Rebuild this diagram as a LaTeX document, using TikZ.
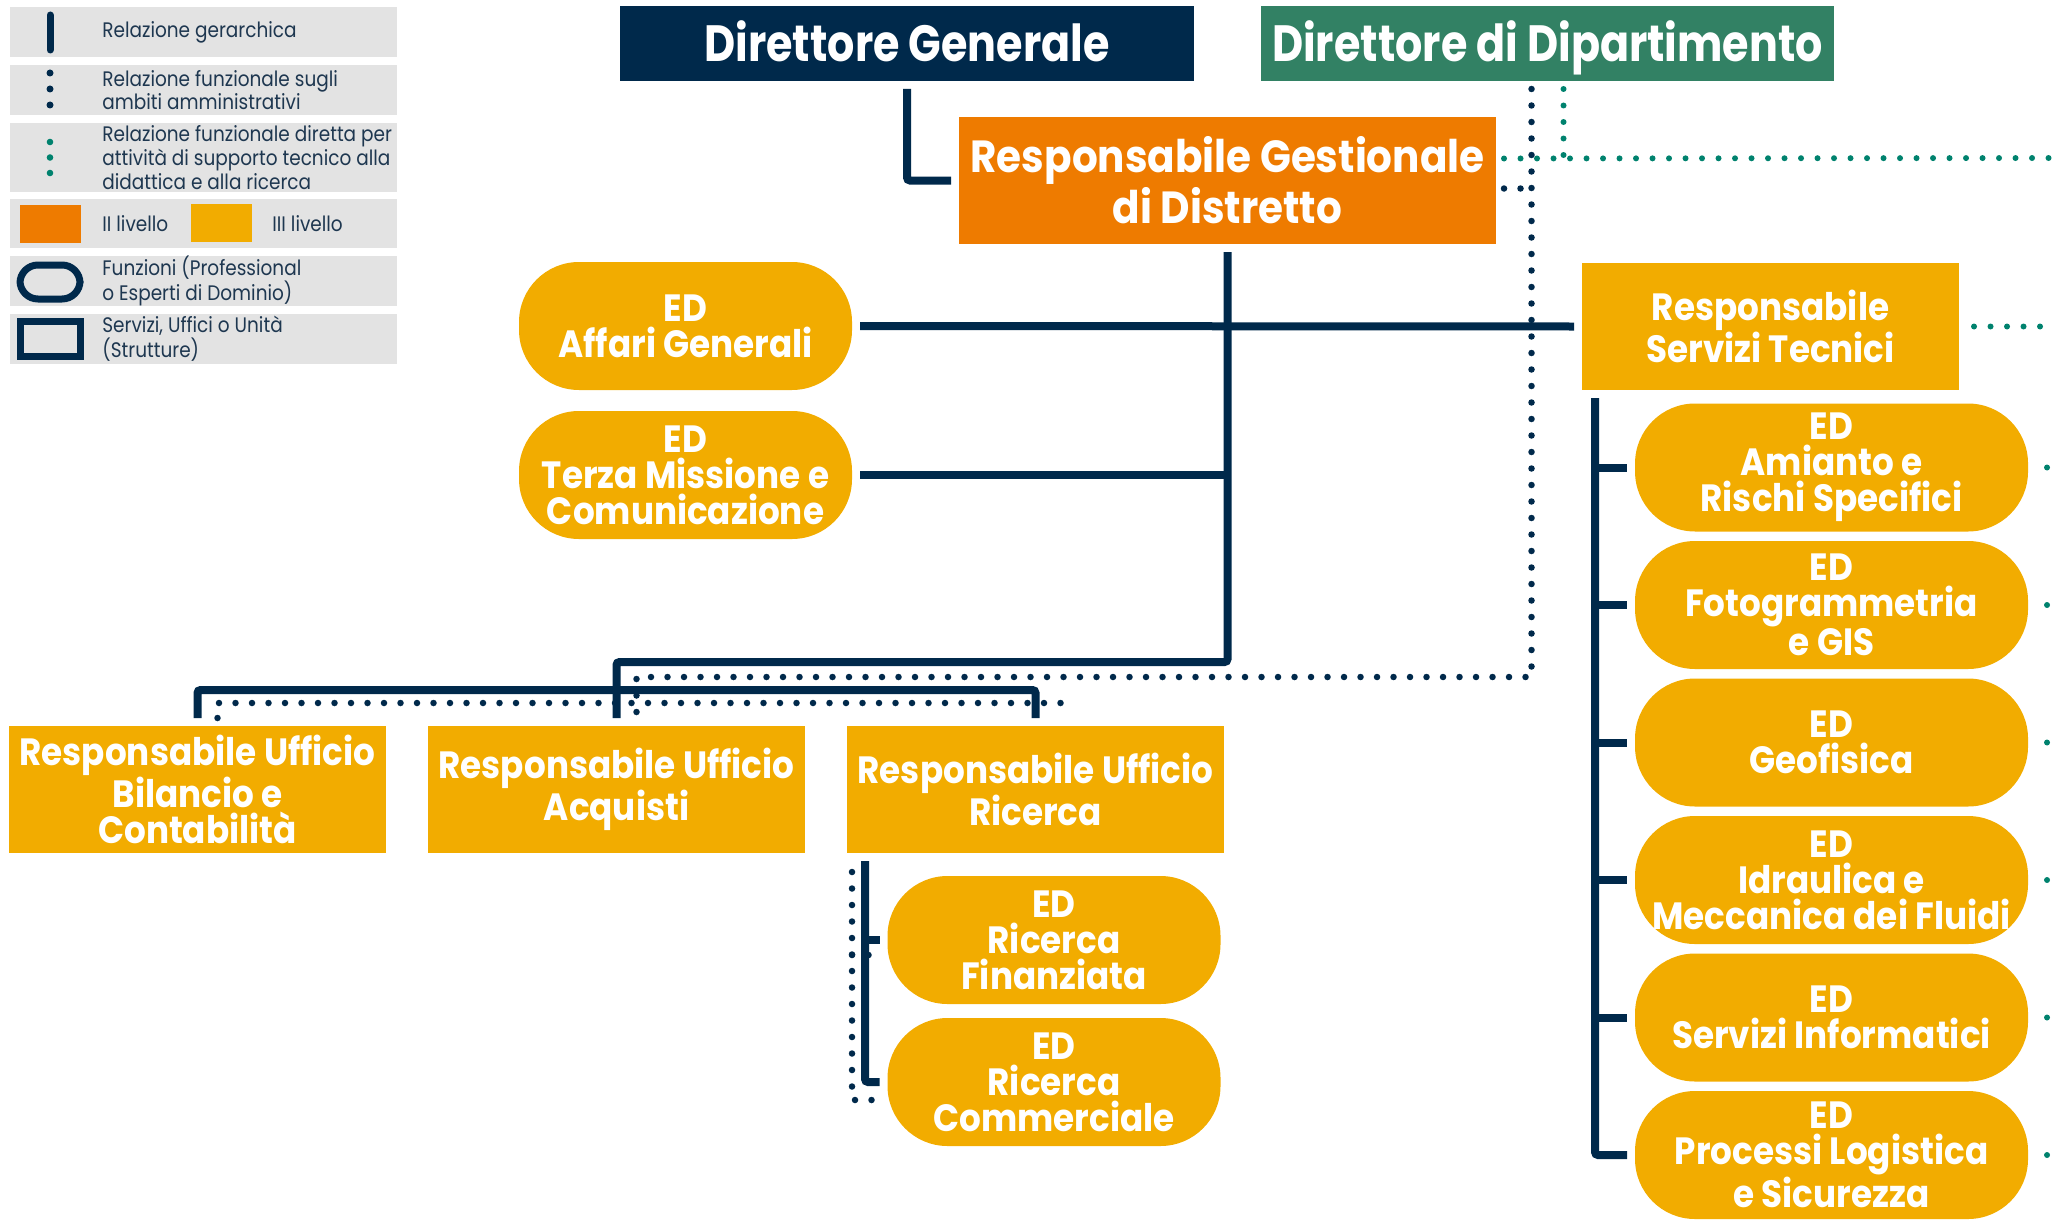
\documentclass[tikz,border=0pt]{standalone}
\usepackage{fontspec}
\setmainfont{Poppins}
\newfontfamily\boxfont{Poppins}[FakeStretch=0.9]
\newfontfamily\headfont{Poppins}[FakeStretch=0.84]
\newfontfamily\legfont{Poppins}[FakeStretch=0.88]

\definecolor{navy}{RGB}{0,41,75}
\definecolor{dipgreen}{RGB}{50,129,100}
\definecolor{techteal}{RGB}{0,130,110}
\definecolor{lvltwo}{RGB}{238,123,0}
\definecolor{lvlthree}{RGB}{242,172,0}
\definecolor{leggray}{RGB}{227,227,227}
\definecolor{legtext}{RGB}{30,55,80}

\begin{document}
\begin{tikzpicture}[x=0.5pt,y=-0.5pt,
    hier/.style={draw=navy,line width=4pt,rounded corners=1.5pt},
    admin/.style={draw=navy,line width=3.25pt,line cap=round,dash pattern=on 0pt off 8.25pt},
    tech/.style={draw=techteal,line width=3pt,line cap=round,dash pattern=on 0pt off 8.25pt},
    head/.style={text=white,font={\headfont\bfseries\fontsize{25.5}{27}\selectfont},inner sep=0pt,outer sep=4pt,text height=19pt,text depth=0.5pt,minimum width=287pt,minimum height=37.5pt},
    unit/.style={fill=lvlthree,text=white,font={\boxfont\bfseries\fontsize{19}{18}\selectfont},align=center,inner sep=0pt,outer sep=4pt,minimum width=188.5pt,minimum height=63.5pt},
    expert/.style={unit,rounded corners=30pt,minimum width=166.5pt,minimum height=64pt},
    wideexpert/.style={expert,minimum width=196.5pt},
    legtxt/.style={anchor=west,align=left,text=legtext,inner sep=0pt,font={\legfont\fontsize{10.5}{10.25}\selectfont}}]
    \useasboundingbox (0,0) rectangle (2059,1220);

    % legend
    \fill[leggray] (10,7) rectangle (397,57);
    \fill[leggray] (10,65) rectangle (397,115);
    \fill[leggray] (10,123) rectangle (397,192);
    \fill[leggray] (10,199) rectangle (397,248);
    \fill[leggray] (10,256) rectangle (397,306);
    \fill[leggray] (10,314) rectangle (397,364);
    \draw[navy,line width=3.5pt,line cap=round] (50,15) -- (50,50);
    \foreach \y in {73,89,105} \fill[navy] (50,\y) circle (3.5);
    \foreach \y in {142,157.5,173} \fill[techteal] (50,\y) circle (3.3);
    \fill[lvltwo] (20,205) rectangle (81,243);
    \fill[lvlthree] (191,204) rectangle (252,242);
    \draw[navy,line width=3.5pt,rounded corners=9pt] (20,265) rectangle (80,299);
    \draw[navy,line width=3.5pt] (20,321) rectangle (80,356);
    \node[legtxt] (lg1) at (102,32) {Relazione gerarchica};
    \node[legtxt] (lg2) at (102,90) {Relazione funzionale sugli\\ambiti amministrativi};
    \node[legtxt] (lg3) at (102,157.5) {Relazione funzionale diretta per\\attività di supporto tecnico alla\\didattica e alla ricerca};
    \node[legtxt] (lg4) at (102,224) {II livello};
    \node[legtxt] (lg5) at (272,224) {III livello};
    \node[legtxt] (lg6) at (102,281) {Funzioni (Professional\\o Esperti di Dominio)};
    \node[legtxt] (lg7) at (102,339) {Servizi, Uffici o Unità\\(Strutture)};

    % top level
    \node[head,fill=navy] (dg) at (907,43.5) {Direttore Generale};
    \node[head,fill=dipgreen,minimum width=286.5pt] (ddd) at (1547.5,43.5) {Direttore di Dipartimento};
    \node[unit,fill=lvltwo,minimum width=268.5pt,font={\boxfont\bfseries\fontsize{22.5}{25.5}\selectfont}] (rgd) at (1227.5,180.5) {Responsabile Gestionale\\di Distretto};

    % distretto
    \node[expert] (edag) at (685.5,326) {ED\\Affari Generali};
    \node[expert] (edtm) at (685.5,475) {ED\\Terza Missione e\\Comunicazione};
    \node[unit] (rst) at (1770.5,326.5) {Responsabile\\Servizi Tecnici};
    \node[unit] (rub) at (197.5,789.5) {Responsabile Ufficio\\Bilancio e\\Contabilità};
    \node[unit] (rua) at (616.5,789.5) {Responsabile Ufficio\\Acquisti};
    \node[unit] (rur) at (1035.5,789.5) {Responsabile Ufficio\\Ricerca};
    \node[expert] (edrf) at (1054,940) {ED\\Ricerca\\Finanziata};
    \node[expert] (edrc) at (1054,1082) {ED\\Ricerca\\Commerciale};

    % servizi tecnici
    \node[wideexpert] (edam) at (1831.5,467.5) {ED\\Amianto e\\Rischi Specifici};
    \node[wideexpert] (edfg) at (1831.5,605) {ED\\Fotogrammetria\\e GIS};
    \node[wideexpert] (edgf) at (1831.5,742.5) {ED\\Geofisica};
    \node[wideexpert] (edim) at (1831.5,880) {ED\\Idraulica e\\Meccanica dei Fluidi};
    \node[wideexpert] (edsi) at (1831.5,1017.5) {ED\\Servizi Informatici};
    \node[wideexpert] (edps) at (1831.5,1155) {ED\\Processi Logistica\\e Sicurezza};

    % gerarchia
    \draw[hier] (dg.south) |- (rgd.west);
    \draw[hier] (rgd.south) -- ++(0,410) -| (rua.north);
    \draw[hier] (edag.east) -- (rst.west);
    \draw[hier] (edtm.east) -- (edtm.east -| rgd.south);
    \draw[hier] (rub.north) -- ++(0,-28) -| (rur.north);
    \coordinate (rbus) at ([xshift=13pt]rur.south west);
    \draw[hier] (rbus) |- (edrc.west);
    \draw[hier] (rbus |- edrf.west) -- (edrf.west);
    \coordinate (stbus) at ([xshift=10.5pt]rst.south west);
    \draw[hier] (stbus) |- (edps.west);
    \foreach \n in {edam,edfg,edgf,edim,edsi}
        \draw[hier] (stbus |- \n.west) -- (\n.west);

    % supporto tecnico
    \coordinate (tec) at ([xshift=8pt]ddd.south);
    \coordinate (tecR) at (2059,158);
    \draw[tech] ([yshift=11pt]rgd.east) -- (tecR);
    \draw[tech] (tec) -- (tec |- tecR);
    \draw[tech] ([xshift=3.5pt]rst.east) -- ++(67,0);
    \foreach \n in {edam,edfg,edgf,edim,edsi,edps}
        \draw[tech] ([xshift=5.5pt]\n.east) -- ++(1,0);

    % ambiti amministrativi
    \coordinate (adm) at ([xshift=-8pt]ddd.south);
    \draw[admin] (adm) -- ++(0,588) -| ([xshift=10pt]rua.north);
    \draw[admin] ([yshift=-4pt]rgd.east) -- ([yshift=-4pt]rgd.east -| adm);
    \draw[admin] ([xshift=10pt]rub.north) -- ++(0,-15) -| ([xshift=12.5pt]rur.north);
    \coordinate (rdot) at ([xshift=6.5pt,yshift=-5.5pt]rur.south west);
    \coordinate (rfdot) at ([yshift=-7.5pt]edrf.west);
    \draw[admin] (rdot) |- ([yshift=-9pt]edrc.west);
    \draw[admin] (rdot |- rfdot) -- (rfdot);
\end{tikzpicture}
\end{document}
